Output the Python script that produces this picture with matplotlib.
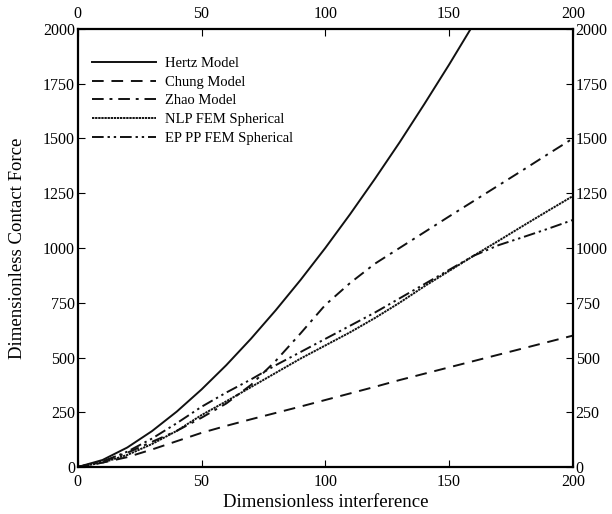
import numpy as np
import matplotlib
matplotlib.use('Agg')
import matplotlib.pyplot as plt

plt.rcParams['font.family'] = ['Liberation Serif', 'DejaVu Serif']
plt.rcParams['mathtext.fontset'] = 'stix'

# ── data ───────────────────────────────────────────────────────────────────
delta = [0, 10, 20, 30, 40, 50, 60, 70, 80, 90, 100,
         110, 120, 130, 140, 150, 160, 170, 180, 190, 200]

hertz_delta = [0, 10, 20, 30, 40, 50, 60, 70, 80, 90, 100,
               110, 120, 130, 140, 150, 160]
hertz_force = [0, 32, 89, 164, 253, 354, 465, 586, 716, 854, 1000,
               1154, 1315, 1482, 1657, 1837, 2024]

chung_force = [0, 20, 45, 80, 118, 156, 188, 218, 247, 276, 306,
               336, 366, 397, 426, 455, 484, 513, 542, 571, 600]

zhao_force = [0, 25, 65, 115, 165, 225, 290, 375, 485, 610, 740,
              840, 928, 1000, 1072, 1144, 1215, 1286, 1357, 1429, 1500]

nlp_force = [0, 20, 55, 105, 165, 237, 300, 365, 430, 495, 555,
             615, 680, 750, 825, 895, 965, 1033, 1102, 1170, 1237]

eppp_force = [0, 25, 70, 130, 200, 275, 340, 400, 465, 525, 585,
              645, 705, 770, 835, 900, 965, 1013, 1050, 1088, 1128]

x_ticks = [0, 50, 100, 150, 200]
y_ticks = [0, 250, 500, 750, 1000, 1250, 1500, 1750, 2000]

# ── plot ───────────────────────────────────────────────────────────────────
fig = plt.figure(figsize=(6.12, 5.14), dpi=100, facecolor='white')
ax = fig.add_axes([0.127, 0.0914, 0.809, 0.8522])

lw = 1.4
ax.plot(hertz_delta, hertz_force, color='#111111', lw=lw, ls='-',
        label='Hertz Model')
ax.plot(delta, chung_force, color='#111111', lw=lw, ls=(0, (6, 4)),
        label='Chung Model')
ax.plot(delta, zhao_force, color='#111111', lw=lw, ls=(0, (6, 3, 1.5, 3)),
        label='Zhao Model')
ax.plot(delta, nlp_force, color='#111111', lw=lw, ls=(0, (1.2, 0.4)),
        label='NLP FEM Spherical')
ax.plot(delta, eppp_force, color='#111111', lw=lw,
        ls=(0, (6, 2, 1.2, 2, 1.2, 2)), label='EP PP FEM Spherical')

ax.set_xlim(0, 200)
ax.set_ylim(0, 2000)
ax.set_xticks(x_ticks)
ax.set_yticks(y_ticks)
ax.tick_params(direction='in', top=True, right=True, labeltop=True,
               labelright=True, labelsize=11.5, length=5, width=0.8,
               pad=2)
ax.tick_params(axis='x', pad=5)
for sp in ax.spines.values():
    sp.set_linewidth(1.6)

ax.set_xlabel('Dimensionless interference', fontsize=13.5, labelpad=3)
ax.set_ylabel('Dimensionless Contact Force', fontsize=13.5, labelpad=12)

leg = ax.legend(loc='upper left', frameon=False, fontsize=10.5,
                handlelength=4.4, handletextpad=0.6, labelspacing=0.38,
                borderaxespad=0.6, bbox_to_anchor=(0.0, 0.97))

fig.savefig('out.png', dpi=100, facecolor='white')
